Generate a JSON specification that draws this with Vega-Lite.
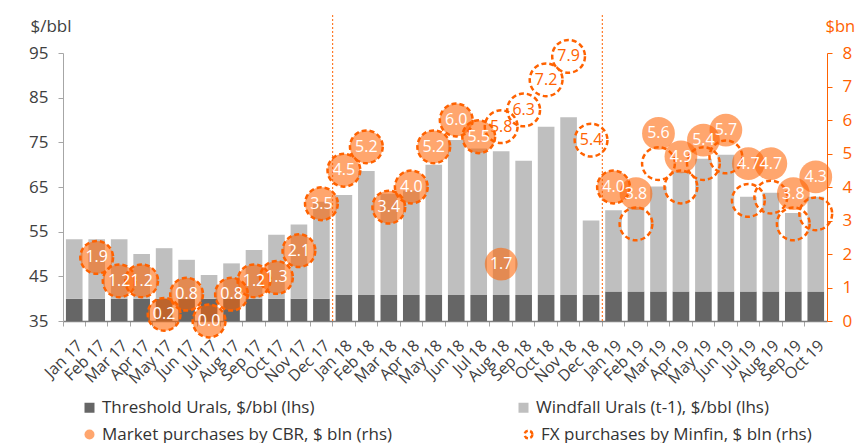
{
  "$schema": "https://vega.github.io/schema/vega-lite/v6.json",
  "width": 764,
  "height": 268,
  "autosize": {"type": "none"},
  "padding": {"left": 63, "top": 53, "right": 29, "bottom": 122},
  "config": {
    "view": {"stroke": null},
    "font": "Open Sans",
    "axis": {"labelFont": "Open Sans", "titleFont": "Open Sans", "grid": false},
    "legend": {"labelFont": "Open Sans", "labelFontSize": 17, "labelColor": "#333333", "labelLimit": 400, "labelOffset": 4, "padding": 0, "title": null}
  },
  "data": {
    "values": [
      {"month": "Jan 17", "threshold": 40, "windfall": 13.3, "cbr": null, "minfin": null},
      {"month": "Feb 17", "threshold": 40, "windfall": 13.3, "cbr": 1.9, "minfin": 1.9},
      {"month": "Mar 17", "threshold": 40, "windfall": 13.3, "cbr": 1.2, "minfin": 1.2},
      {"month": "Apr 17", "threshold": 40, "windfall": 10.0, "cbr": 1.2, "minfin": 1.2},
      {"month": "May 17", "threshold": 40, "windfall": 11.3, "cbr": 0.2, "minfin": 0.2},
      {"month": "Jun 17", "threshold": 40, "windfall": 8.7, "cbr": 0.8, "minfin": 0.8},
      {"month": "Jul 17", "threshold": 40, "windfall": 5.3, "cbr": 0.0, "minfin": 0.0},
      {"month": "Aug 17", "threshold": 40, "windfall": 7.9, "cbr": 0.8, "minfin": 0.8},
      {"month": "Sep 17", "threshold": 40, "windfall": 10.9, "cbr": 1.2, "minfin": 1.2},
      {"month": "Oct 17", "threshold": 40, "windfall": 14.3, "cbr": 1.3, "minfin": 1.3},
      {"month": "Nov 17", "threshold": 40, "windfall": 16.6, "cbr": 2.1, "minfin": 2.1},
      {"month": "Dec 17", "threshold": 40, "windfall": 21.7, "cbr": 3.5, "minfin": 3.5},
      {"month": "Jan 18", "threshold": 40.8, "windfall": 22.4, "cbr": 4.5, "minfin": 4.5},
      {"month": "Feb 18", "threshold": 40.8, "windfall": 27.8, "cbr": 5.2, "minfin": 5.2},
      {"month": "Mar 18", "threshold": 40.8, "windfall": 22.7, "cbr": 3.4, "minfin": 3.4},
      {"month": "Apr 18", "threshold": 40.8, "windfall": 23.4, "cbr": 4.0, "minfin": 4.0},
      {"month": "May 18", "threshold": 40.8, "windfall": 29.2, "cbr": 5.2, "minfin": 5.2},
      {"month": "Jun 18", "threshold": 40.8, "windfall": 34.7, "cbr": 6.0, "minfin": 6.0},
      {"month": "Jul 18", "threshold": 40.8, "windfall": 32.8, "cbr": 5.5, "minfin": 5.5},
      {"month": "Aug 18", "threshold": 40.8, "windfall": 32.2, "cbr": 1.7, "minfin": 5.8},
      {"month": "Sep 18", "threshold": 40.8, "windfall": 30.1, "cbr": null, "minfin": 6.3},
      {"month": "Oct 18", "threshold": 40.8, "windfall": 37.7, "cbr": null, "minfin": 7.2},
      {"month": "Nov 18", "threshold": 40.8, "windfall": 39.8, "cbr": null, "minfin": 7.9},
      {"month": "Dec 18", "threshold": 40.8, "windfall": 16.7, "cbr": null, "minfin": 5.4},
      {"month": "Jan 19", "threshold": 41.6, "windfall": 18.2, "cbr": 4.0, "minfin": 4.0},
      {"month": "Feb 19", "threshold": 41.6, "windfall": 18.9, "cbr": 3.8, "minfin": 2.9},
      {"month": "Mar 19", "threshold": 41.6, "windfall": 23.5, "cbr": 5.6, "minfin": 4.7},
      {"month": "Apr 19", "threshold": 41.6, "windfall": 26.8, "cbr": 4.9, "minfin": 4.0},
      {"month": "May 19", "threshold": 41.6, "windfall": 29.7, "cbr": 5.4, "minfin": 4.7},
      {"month": "Jun 19", "threshold": 41.6, "windfall": 30.6, "cbr": 5.7, "minfin": 4.9},
      {"month": "Jul 19", "threshold": 41.6, "windfall": 21.2, "cbr": 4.7, "minfin": 3.6},
      {"month": "Aug 19", "threshold": 41.6, "windfall": 22.1, "cbr": 4.7, "minfin": 3.7},
      {"month": "Sep 19", "threshold": 41.6, "windfall": 17.6, "cbr": 3.8, "minfin": 2.9},
      {"month": "Oct 19", "threshold": 41.6, "windfall": 21.2, "cbr": 4.3, "minfin": 3.2}
    ]
  },
  "encoding": {
    "x": {
      "field": "month",
      "type": "nominal",
      "scale": {
        "domain": ["Jan 17","Feb 17","Mar 17","Apr 17","May 17","Jun 17","Jul 17","Aug 17","Sep 17","Oct 17","Nov 17","Dec 17","Jan 18","Feb 18","Mar 18","Apr 18","May 18","Jun 18","Jul 18","Aug 18","Sep 18","Oct 18","Nov 18","Dec 18","Jan 19","Feb 19","Mar 19","Apr 19","May 19","Jun 19","Jul 19","Aug 19","Sep 19","Oct 19"],
        "paddingInner": 0.26,
        "paddingOuter": 0.13
      },
      "axis": {
        "title": null,
        "labelAngle": -45,
        "labelFontSize": 16,
        "labelColor": "#404040",
        "domainColor": "#808080",
        "domainWidth": 1.5,
        "tickColor": "#a6a6a6",
        "tickSize": 5,
        "bandPosition": -0.175,
        "labelPadding": 11
      }
    }
  },
  "layer": [
    {
      "layer": [
        {
          "transform": [{"fold": ["threshold", "windfall"], "as": ["series", "usd"]}],
          "mark": {"type": "bar", "clip": true},
          "encoding": {
            "y": {
              "field": "usd",
              "type": "quantitative",
              "stack": "zero",
              "scale": {"domain": [35, 95], "zero": false, "nice": false},
              "axis": {
                "title": "$/bbl",
                "titleAngle": 0,
                "titleAlign": "left",
                "titleBaseline": "alphabetic",
                "titleX": -33,
                "titleY": -22,
                "titleFontSize": 17,
                "titleFontWeight": "normal",
                "titleColor": "#404040",
                "values": [35, 45, 55, 65, 75, 85, 95],
                "labelFontSize": 17,
                "labelColor": "#404040",
                "domainColor": "#a6a6a6",
                "tickColor": "#a6a6a6",
                "tickSize": 5,
                "labelPadding": 10
              }
            },
            "color": {
              "field": "series",
              "type": "nominal",
              "scale": {
                "domain": ["threshold", "windfall"],
                "range": ["#666666", "#bfbfbf"]
              },
              "legend": {
                "orient": "none",
                "legendX": 18,
                "legendY": 346,
                "columns": 2,
                "columnPadding": 200,
                "symbolType": "square",
                "symbolSize": 100,
                "symbolStrokeWidth": 0,
                "labelExpr": "datum.label === 'threshold' ? 'Threshold Urals, $/bbl (lhs)' : 'Windfall Urals (t-1), $/bbl (lhs)'"
              }
            },
            "order": {"field": "series", "sort": "ascending"}
          }
        },
        {
          "data": {"values": [{"month": "Jan 18"}, {"month": "Jan 19"}]},
          "mark": {"type": "rule", "color": "#ff6200", "strokeDash": [2, 2], "strokeWidth": 1},
          "encoding": {
            "x": {
              "field": "month",
              "type": "nominal",
              "bandPosition": -0.175,
              "scale": {
                "domain": ["Jan 17","Feb 17","Mar 17","Apr 17","May 17","Jun 17","Jul 17","Aug 17","Sep 17","Oct 17","Nov 17","Dec 17","Jan 18","Feb 18","Mar 18","Apr 18","May 18","Jun 18","Jul 18","Aug 18","Sep 18","Oct 18","Nov 18","Dec 18","Jan 19","Feb 19","Mar 19","Apr 19","May 19","Jun 19","Jul 19","Aug 19","Sep 19","Oct 19"],
                "paddingInner": 0.26,
                "paddingOuter": 0.13
              },
              "axis": {
                "title": null,
                "labelAngle": -45,
                "labelFontSize": 16,
                "labelColor": "#404040",
                "domainColor": "#808080",
                "domainWidth": 1.5,
                "tickColor": "#a6a6a6",
                "tickSize": 5,
                "bandPosition": -0.175,
                "labelPadding": 11
              }
            },
            "y": {"datum": 35},
            "y2": {"datum": 103.5}
          }
        }
      ]
    },
    {
      "transform": [
        {"fold": ["cbr", "minfin"], "as": ["series", "amount"]},
        {"filter": "datum.amount != null"}
      ],
      "encoding": {
        "y": {
          "field": "amount",
          "type": "quantitative",
          "scale": {"domain": [0, 8], "nice": false, "zero": true},
          "axis": {
            "orient": "right",
            "title": "$bn",
            "titleAngle": 0,
            "titleAlign": "left",
            "titleBaseline": "alphabetic",
            "titleX": -2,
            "titleY": -22,
            "titleFontSize": 16.5,
            "titleFontWeight": "normal",
            "titleColor": "#ff6200",
            "values": [0, 1, 2, 3, 4, 5, 6, 7, 8],
            "labelFontSize": 17,
            "labelColor": "#ff6200",
            "domainColor": "#ff6200",
            "tickColor": "#ff6200",
            "tickSize": 5,
            "labelPadding": 10
          }
        }
      },
      "layer": [
        {
          "transform": [{"filter": "datum.series === 'cbr'"}],
          "mark": {"type": "circle", "size": 1075, "opacity": 0.57, "clip": false},
          "encoding": {
            "fill": {
              "datum": "Market purchases by CBR, $ bln (rhs)",
              "scale": {"range": ["#ff6200"]},
              "legend": {
                "orient": "none",
                "legendX": 18,
                "legendY": 373,
                "symbolType": "circle",
                "symbolSize": 100,
                "symbolOpacity": 0.57,
                "symbolStrokeWidth": 0
              }
            }
          }
        },
        {
          "transform": [{"filter": "datum.series === 'minfin'"}],
          "mark": {"type": "circle", "filled": false, "size": 1075, "opacity": 1, "strokeWidth": 2.5, "strokeDash": [5, 3], "clip": false},
          "encoding": {
            "stroke": {
              "datum": "FX purchases by Minfin, $ bln (rhs)",
              "scale": {"range": ["#ff6200"]},
              "legend": {
                "orient": "none",
                "legendX": 457,
                "legendY": 373,
                "symbolType": "circle",
                "symbolSize": 60,
                "symbolStrokeWidth": 2.5,
                "symbolDash": [4, 2.5],
                "symbolFillColor": "transparent"
              }
            }
          }
        },
        {
          "transform": [{"filter": "datum.series === 'cbr'"}],
          "mark": {"type": "text", "color": "#ffffff", "fontSize": 16, "align": "center", "baseline": "middle", "font": "Open Sans"},
          "encoding": {"text": {"field": "amount", "type": "quantitative", "format": ".1f"}}
        },
        {
          "transform": [
            {"filter": "datum.series === 'minfin'"},
            {"filter": {"field": "month", "oneOf": ["Aug 18", "Sep 18", "Oct 18", "Nov 18", "Dec 18"]}}
          ],
          "mark": {"type": "text", "color": "#ff6200", "fontSize": 16, "align": "center", "baseline": "middle", "font": "Open Sans"},
          "encoding": {"text": {"field": "amount", "type": "quantitative", "format": ".1f"}}
        }
      ]
    }
  ],
  "resolve": {"scale": {"y": "independent"}}
}
